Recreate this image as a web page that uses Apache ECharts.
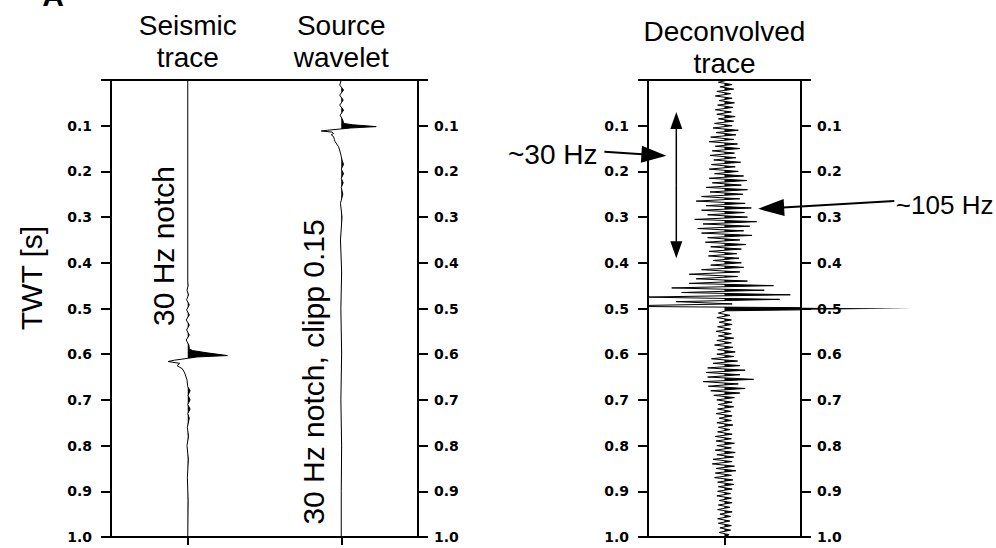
<!DOCTYPE html>
<html><head><meta charset="utf-8">
<script src="https://cdn.jsdelivr.net/npm/echarts@6/dist/echarts.min.js"></script>
<style>html,body{margin:0;padding:0;background:#fff}#c{width:996px;height:548px}</style>
</head><body><div id="c"></div>
<script>
// ---------------- data ----------------
const panelTitles = ['Seismic\ntrace', 'Source\nwavelet', 'Deconvolved\ntrace'];
const traceNotes = ['30 Hz notch', '30 Hz notch, clipp 0.15'];
const axisTitle = 'TWT [s]';
const panelLetter = 'A';
const annotationLabels = ['~30 Hz', '~105 Hz'];

// Seismic trace (time [s], amplitude)
const seismicTime = [0, 0.44, 0.45, 0.46, 0.47, 0.481, 0.492, 0.503, 0.514, 0.525, 0.536, 0.547, 0.558, 0.569, 0.58, 0.588, 0.592, 0.597, 0.603, 0.606, 0.609, 0.613, 0.616, 0.62, 0.625, 0.632, 0.641, 0.656, 0.671, 0.68, 0.69, 0.70, 0.71, 0.72, 0.73, 0.74, 0.76, 0.78, 0.80, 0.83, 0.87, 0.92, 1.0];
const seismicAmp  = [0, 0, 0.005, -0.01, 0.01, -0.015, 0.02, -0.015, 0.02, -0.02, 0.02, -0.015, 0.02, -0.02, 0.015, 0.02, 0.06, 0.25, 0.517, 0.12, 0.0, -0.17, -0.256, -0.104, -0.139, -0.07, -0.04, -0.01, 0.0, 0.03, 0.005, 0.03, 0.0, 0.03, 0.0, 0.02, -0.005, 0.01, -0.01, 0.008, -0.005, 0.005, 0];

// Source wavelet (time [s], amplitude)
const sourceTime = [0, 0.011, 0.022, 0.033, 0.044, 0.055, 0.066, 0.077, 0.0875, 0.095, 0.098, 0.102, 0.105, 0.107, 0.110, 0.1116, 0.114, 0.117, 0.120, 0.124, 0.130, 0.135, 0.146, 0.160, 0.175, 0.185, 0.195, 0.205, 0.215, 0.225, 0.235, 0.250, 0.270, 0.300, 0.350, 0.420, 0.500, 0.600, 0.700, 0.800, 0.900, 1.0];
const sourceAmp  = [0, -0.02, 0.03, -0.02, 0.025, -0.02, 0.03, -0.015, 0.02, 0.03, 0.15, 0.456, 0.12, 0.0, -0.18, -0.26, -0.12, -0.10, -0.13, -0.10, -0.09, -0.08, -0.035, -0.01, 0.01, 0.03, 0.0, 0.03, 0.0, 0.025, 0.0, 0.02, -0.01, 0.01, -0.01, 0.005, -0.005, 0.005, -0.005, 0.005, 0, 0];

// Deconvolved trace, sampled every 0.005 s from 0 to 1.0 s
const deconStart = 0, deconStep = 0.005;
const deconAmp = [
  0.05,-0.08,0.10,-0.06,0.12,-0.10,0.08,-0.12,0.10,-0.07,0.13,-0.09,0.11,-0.12,0.09,-0.10,0.14,-0.08,0.12,-0.13,
  0.10,-0.15,0.18,-0.11,0.15,-0.18,0.12,-0.20,0.17,-0.12,0.20,-0.16,0.13,-0.19,0.15,-0.14,0.21,-0.17,0.14,-0.20,
  0.18,-0.13,0.25,-0.20,0.29,-0.16,0.22,-0.24,0.30,-0.19,0.24,-0.30,0.20,-0.37,0.27,-0.24,0.35,-0.30,0.26,-0.22,
  0.30,-0.39,0.42,-0.28,0.33,-0.35,0.25,-0.30,0.36,-0.22,0.20,-0.25,0.28,-0.18,0.22,-0.20,0.16,-0.21,0.19,-0.15,
  0.22,-0.18,0.25,-0.30,0.20,-0.46,0.17,-0.37,0.30,-0.46,0.64,-0.69,0.52,-0.56,0.86,-1.07,0.72,-0.63,0.10,-1.60,
  2.44,0.02,-0.08,0.07,-0.10,0.09,-0.07,0.10,-0.09,0.08,-0.11,0.09,-0.08,0.12,-0.10,0.09,-0.13,0.11,-0.09,0.14,
  -0.10,0.12,-0.17,0.17,-0.15,0.20,-0.22,0.27,-0.24,0.20,-0.22,0.38,-0.28,0.18,-0.21,0.27,-0.18,0.20,-0.14,0.13,
  -0.10,0.10,-0.08,0.12,-0.09,0.08,-0.11,0.10,-0.07,0.09,-0.10,0.11,-0.08,0.07,-0.09,0.10,-0.12,0.09,-0.11,0.13,
  -0.10,0.09,-0.12,0.14,-0.10,0.12,-0.15,0.10,-0.16,0.13,-0.11,0.15,-0.12,0.09,-0.13,0.11,-0.09,0.12,-0.08,0.10,
  -0.09,0.08,-0.10,0.09,-0.07,0.10,-0.08,0.07,-0.09,0.10,-0.06,0.08,-0.09,0.07,-0.08,0.09,-0.06,0.08,-0.07,0.06,0.00
];

// Annotation arrows in data units of the deconvolved panel: [amplitude, time]
const arrow30From = [-1.57, 0.157], arrow30To = [-0.76, 0.166];
const arrow105From = [2.22, 0.265], arrow105To = [0.44, 0.282];
const bandArrowX = -0.63, bandArrowTop = 0.07, bandArrowBottom = 0.39;
const label30At = [-1.66, 0.164], label105At = [2.24, 0.274];

// ---------------- chart ----------------
const deconTime = deconAmp.map((_, i) => +(deconStart + i * deconStep).toFixed(4));
const chart = echarts.init(document.getElementById('c'), null, {renderer: 'svg'});

const tickFont = {fontFamily: 'DejaVu Sans', fontWeight: 'bold', fontSize: 14, color: '#000'};
function yAx(grid, pos) {
  return {
    type: 'value', gridIndex: grid, position: pos, inverse: true, min: 0, max: 1, interval: 0.1,
    axisLine: {show: true, onZero: false, lineStyle: {color: '#000', width: 2}},
    axisTick: {show: true, inside: false, length: 10, lineStyle: {color: '#000', width: 2}},
    axisLabel: Object.assign({margin: pos === 'left' ? 19 : 16, formatter: v => v === 0 ? '' : v.toFixed(1)}, tickFont),
    splitLine: {show: false}
  };
}
function xAx(grid, min, max, ticks) {
  return {
    type: 'value', gridIndex: grid, position: 'bottom', min: min, max: max,
    axisLine: {show: true, onZero: false, lineStyle: {color: '#000', width: 2}},
    axisTick: {show: true, inside: false, length: 8, customValues: ticks, lineStyle: {color: '#000', width: 2}},
    axisLabel: {show: false},
    splitLine: {show: false}
  };
}
function lineS(xi, yi, times, amps, base) {
  return {
    type: 'line', xAxisIndex: xi, yAxisIndex: yi, clip: false, showSymbol: false, symbol: 'none',
    silent: true, animation: false, z: 4,
    lineStyle: {color: '#000', width: 1},
    data: times.map((t, i) => [amps[i] + base, t])
  };
}
function fillS(xi, yi, times, amps, base) {
  return {
    type: 'custom', xAxisIndex: xi, yAxisIndex: yi, clip: false, silent: true, animation: false, z: 3,
    data: [[base, 0]],
    renderItem: function (params, api) {
      const pts = [api.coord([base, times[0]])];
      for (let i = 0; i < times.length; i++) {
        const v = amps[i], t = times[i];
        pts.push(api.coord([base + Math.max(v, 0), t]));
        if (i < times.length - 1) {
          const v2 = amps[i + 1];
          if ((v > 0) !== (v2 > 0)) {
            const tc = t + (times[i + 1] - t) * (-v) / (v2 - v);
            pts.push(api.coord([base, tc]));
          }
        }
      }
      pts.push(api.coord([base, times[times.length - 1]]));
      return {type: 'polygon', shape: {points: pts}, style: {fill: '#000', stroke: null}};
    }
  };
}

const gridBase = {show: true, borderColor: '#000', borderWidth: 2, backgroundColor: 'transparent', containLabel: false, outerBoundsMode: 'none'};
chart.setOption({
  animation: false,
  backgroundColor: '#fff',
  grid: [
    Object.assign({left: 111, top: 80, width: 307, height: 457}, gridBase),
    Object.assign({left: 648, top: 80, width: 153, height: 457}, gridBase)
  ],
  xAxis: [xAx(0, -1, 3, [0, 2]), xAx(1, -1, 1, [0])],
  yAxis: [yAx(0, 'left'), yAx(0, 'right'), yAx(1, 'left'), yAx(1, 'right')],
  series: [
    fillS(0, 0, seismicTime, seismicAmp, 0), lineS(0, 0, seismicTime, seismicAmp, 0),
    fillS(0, 0, sourceTime, sourceAmp, 2), lineS(0, 0, sourceTime, sourceAmp, 2),
    fillS(1, 2, deconTime, deconAmp, 0), lineS(1, 2, deconTime, deconAmp, 0)
  ]
});

// ---------------- annotations ----------------
function px(xi, yi, p) { return chart.convertToPixel({xAxisIndex: xi, yAxisIndex: yi}, p); }
function arrowEls(p0, p1, hl, hw, lw) {
  const dx = p1[0] - p0[0], dy = p1[1] - p0[1], L = Math.hypot(dx, dy), ux = dx / L, uy = dy / L;
  const bx = p1[0] - ux * hl, by = p1[1] - uy * hl, nx = -uy, ny = ux;
  return [
    {type: 'line', silent: true, shape: {x1: p0[0], y1: p0[1], x2: bx + ux, y2: by + uy}, style: {stroke: '#000', lineWidth: lw}},
    {type: 'polygon', silent: true, shape: {points: [[p1[0], p1[1]], [bx + nx * hw / 2, by + ny * hw / 2], [bx - nx * hw / 2, by - ny * hw / 2]]}, style: {fill: '#000'}}
  ];
}
const titleFont = 'Liberation Sans, Arial, sans-serif';
function txt(text, x, y, size, opts) {
  return Object.assign({
    type: 'text', silent: true, x: x, y: y,
    style: Object.assign({text: text, fill: '#000', font: size + 'px ' + titleFont, align: 'center', verticalAlign: 'middle', lineHeight: 32}, (opts && opts.style) || {})
  }, (opts && opts.el) || {});
}
const xSeis = px(0, 0, [0, 0])[0], xSrc = px(0, 0, [2, 0])[0], xDec = px(1, 2, [0, 0])[0];
const els = [];
els.push(txt(panelTitles[0], xSeis, 41, 28));
els.push(txt(panelTitles[1], xSrc, 41, 28));
els.push(txt(panelTitles[2], xDec, 47, 28));
els.push(txt(traceNotes[0], 163, 246, 30, {el: {rotation: Math.PI / 2}}));
els.push(txt(traceNotes[1], 313, 372, 30, {el: {rotation: Math.PI / 2}}));
els.push(txt(axisTitle, 31, 278, 30, {el: {rotation: Math.PI / 2}}));
els.push(txt(panelLetter, 53, 11, 30, {style: {font: 'bold 30px ' + titleFont, verticalAlign: 'bottom'}}));
const l30 = px(1, 2, label30At), l105 = px(1, 2, label105At);
els.push(txt(annotationLabels[0], l30[0], l30[1], 28, {style: {align: 'right'}}));
els.push(txt(annotationLabels[1], l105[0], l105[1], 26, {style: {align: 'left'}}));
els.push(...arrowEls(px(1, 2, arrow30From), px(1, 2, arrow30To), 25, 17, 2));
els.push(...arrowEls(px(1, 2, arrow105From), px(1, 2, arrow105To), 26, 17, 2));
const bandMid = px(1, 2, [bandArrowX, (bandArrowTop + bandArrowBottom) / 2]);
els.push(...arrowEls(bandMid, px(1, 2, [bandArrowX, bandArrowTop]), 17, 12, 1.5));
els.push(...arrowEls(bandMid, px(1, 2, [bandArrowX, bandArrowBottom]), 17, 12, 1.5));
chart.setOption({graphic: {elements: els}});
</script>
</body></html>
